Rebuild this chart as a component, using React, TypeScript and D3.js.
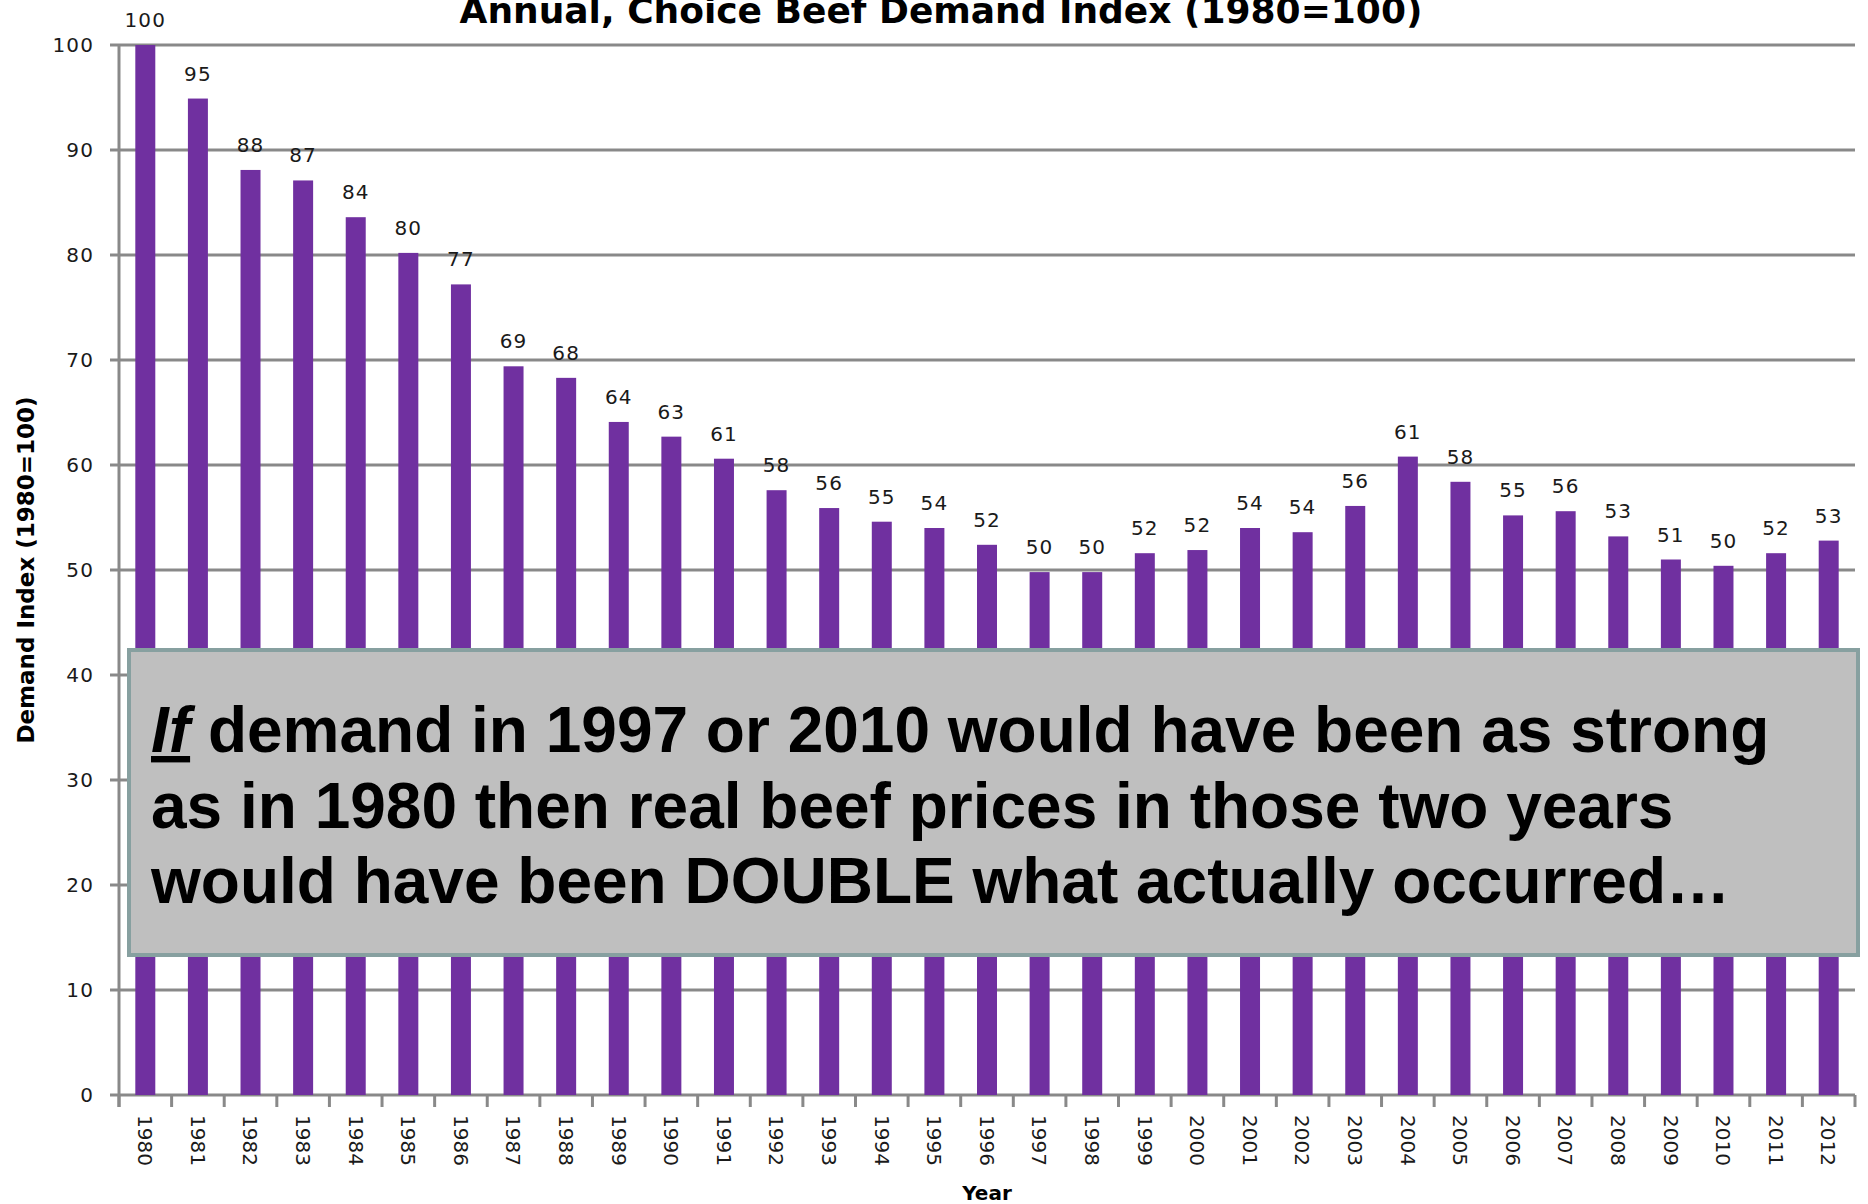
import React from 'react';
import * as d3 from 'd3';

const years = [
  '1980', '1981', '1982', '1983', '1984', '1985', '1986', '1987', '1988', '1989', '1990',
  '1991', '1992', '1993', '1994', '1995', '1996', '1997', '1998', '1999', '2000', '2001',
  '2002', '2003', '2004', '2005', '2006', '2007', '2008', '2009', '2010', '2011', '2012',
];
const demandIndex = [
  100, 94.9, 88.1, 87.1, 83.6, 80.2, 77.2, 69.4, 68.3, 64.1, 62.7,
  60.6, 57.6, 55.9, 54.6, 54.0, 52.4, 49.8, 49.8, 51.6, 51.9, 54.0,
  53.6, 56.1, 60.8, 58.4, 55.2, 55.6, 53.2, 51.0, 50.4, 51.6, 52.8,
];
const yTicks = [0, 10, 20, 30, 40, 50, 60, 70, 80, 90, 100];

const title = 'Annual, Choice Beef Demand Index (1980=100)';
const yTitle = 'Demand Index (1980=100)';
const xTitle = 'Year';
const noteLines = [
  ' demand in 1997 or 2010 would have been as strong',
  'as in 1980 then real beef prices in those two years',
  'would have been DOUBLE what actually occurred…',
];

const W = 1868;
const H = 1204;
const left = 119;
const right = 1855;
const top = 45;
const bottom = 1095;

const BAR = '#7030a0';
const GRID = '#898989';
const TXT = '#1a1a1a';

export default function App() {
  const x = d3.scaleBand<string>().domain(years).range([left, right]).padding(0);
  const y = d3.scaleLinear().domain([0, 100]).range([bottom, top]);
  const barW = x.bandwidth() * 0.38;

  return (
    <svg width={W} height={H} style={{ position: 'absolute', left: 0, top: 0, background: '#fff' }}
      fontFamily="'DejaVu Sans', Verdana, sans-serif">
      {/* gridlines + y ticks */}
      {yTicks.map(t => (
        <g key={t}>
          <line x1={left - 9} x2={right} y1={y(t)} y2={y(t)} stroke={GRID} strokeWidth={3} />
          <text x={94} y={y(t)} dy="0.36em" textAnchor="end" fontSize={20} letterSpacing={1.1} fill={TXT}>{t}</text>
        </g>
      ))}
      <line x1={left} x2={left} y1={top} y2={bottom + 12} stroke={GRID} strokeWidth={3} />

      {/* x ticks */}
      {years.map((yr, i) => (
        <line key={'t' + yr} x1={left + i * x.step()} x2={left + i * x.step()} y1={bottom} y2={bottom + 12}
          stroke={GRID} strokeWidth={3} />
      ))}
      <line x1={right} x2={right} y1={bottom} y2={bottom + 12} stroke={GRID} strokeWidth={3} />

      {/* bars */}
      {years.map((yr, i) => {
        const cx = (x(yr) as number) + x.bandwidth() / 2;
        return (
          <g key={yr}>
            <rect x={cx - barW / 2} y={y(demandIndex[i])} width={barW} height={bottom - y(demandIndex[i])} fill={BAR} />
            <text x={cx} y={y(demandIndex[i]) - 18} textAnchor="middle" fontSize={20} letterSpacing={1.1} fill={TXT}>
              {Math.round(demandIndex[i])}
            </text>
            <text transform={`translate(${cx},1115) rotate(90)`} dy="0.36em" fontSize={20} fill={TXT}>{yr}</text>
          </g>
        );
      })}

      {/* titles */}
      <text x={941} y={23} textAnchor="middle" fontSize={36} fontWeight="bold" fill="#000">{title}</text>
      <text transform="translate(34,570) rotate(-90)" textAnchor="middle" fontSize={23} fontWeight="bold" fill="#000">{yTitle}</text>
      <text x={(left + right) / 2} y={1200} textAnchor="middle" fontSize={20} fontWeight="bold" fill="#000">{xTitle}</text>

      {/* annotation box */}
      <rect x={129} y={650} width={1729} height={305} fill="#bfbfbf" stroke="#87a0a0" strokeWidth={4} />
      <g fontFamily="'Liberation Sans', Arial, sans-serif" fontWeight="bold" fontSize={64} fill="#000">
        <text x={151} y={752}>
          <tspan fontStyle="italic" textDecoration="underline">If</tspan>
          {noteLines[0]}
        </text>
        <text x={151} y={828}>{noteLines[1]}</text>
        <text x={151} y={903}>{noteLines[2]}</text>
      </g>
    </svg>
  );
}
